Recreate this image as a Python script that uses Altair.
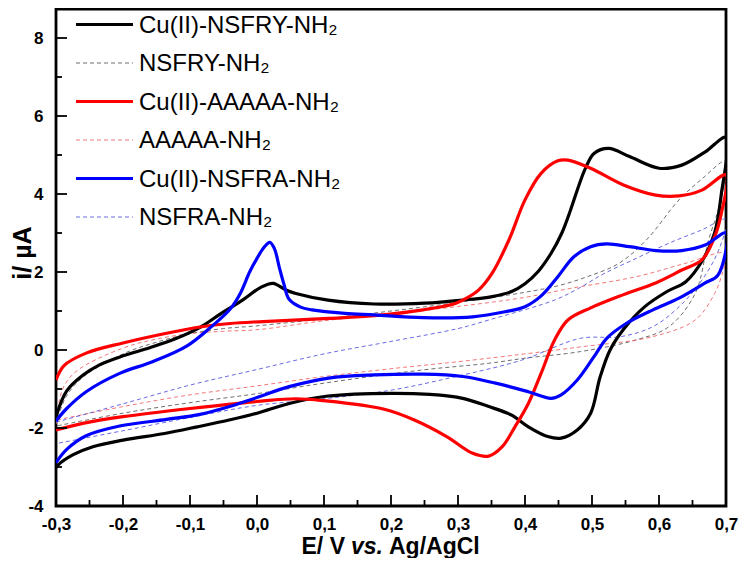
import altair as alt
import pandas as pd

# ---------------- data ----------------
CU_NSFRY_E = [-0.300, -0.284, -0.260, -0.235, -0.200, -0.160, -0.120, -0.085, -0.055, -0.020, 0.005, 0.024,
              0.043, 0.058, 0.106, 0.175, 0.250, 0.307, 0.351, 0.380, 0.400, 0.420, 0.439, 0.455, 0.468, 0.480,
              0.490, 0.503, 0.525, 0.556, 0.600, 0.634, 0.669, 0.700,
              0.693, 0.683, 0.665, 0.640, 0.612, 0.578, 0.548, 0.527, 0.512, 0.498, 0.478, 0.454, 0.434, 0.405,
              0.380, 0.346, 0.307, 0.258, 0.200, 0.106, 0.048, 0.000, -0.040, -0.089, -0.138, -0.200, -0.245,
              -0.275, -0.297, -0.300]
CU_NSFRY_I = [-1.71, -1.05, -0.65, -0.38, -0.15, 0.06, 0.30, 0.58, 0.92, 1.30, 1.60, 1.71,
              1.54, 1.45, 1.28, 1.18, 1.20, 1.28, 1.37, 1.50, 1.70, 2.02, 2.48, 3.00, 3.59, 4.20,
              4.65, 5.04, 5.17, 4.96, 4.66, 4.74, 5.08, 5.45,
              4.00, 3.00, 2.30, 1.75, 1.50, 1.10, 0.55, 0.00, -0.70, -1.62, -2.05, -2.26, -2.22, -1.97,
              -1.67, -1.45, -1.24, -1.14, -1.11, -1.18, -1.37, -1.62, -1.79, -1.97, -2.14, -2.31, -2.48,
              -2.69, -2.95, -3.02]

CU_AAAAA_E = [-0.300, -0.288, -0.255, -0.200, -0.135, -0.085, -0.040, 0.009, 0.107, 0.175, 0.248, 0.297,
              0.315, 0.331, 0.351, 0.376, 0.400, 0.424, 0.449, 0.464, 0.498, 0.547, 0.595, 0.630, 0.664, 0.700,
              0.693, 0.683, 0.664, 0.634, 0.595, 0.547, 0.498, 0.464, 0.444, 0.424, 0.405, 0.385, 0.366, 0.346,
              0.322, 0.283, 0.234, 0.190, 0.100, 0.058, 0.000, -0.100, -0.200, -0.260, -0.300]
CU_AAAAA_I = [-0.77, -0.40, -0.08, 0.18, 0.43, 0.59, 0.68, 0.73, 0.81, 0.88, 1.03, 1.20,
              1.35, 1.54, 1.97, 2.82, 3.85, 4.53, 4.85, 4.87, 4.66, 4.23, 3.97, 3.95, 4.10, 4.49,
              3.50, 2.90, 2.31, 2.05, 1.72, 1.42, 1.08, 0.77, 0.25, -0.60, -1.37, -1.97, -2.48, -2.72,
              -2.65, -2.22, -1.79, -1.52, -1.30, -1.25, -1.32, -1.50, -1.71, -1.88, -2.05]

CU_NSFRA_E = [-0.300, -0.284, -0.255, -0.205, -0.156, -0.105, -0.068, -0.040, -0.025, -0.011, 0.000, 0.010,
              0.019, 0.026, 0.033, 0.040, 0.048, 0.065, 0.082, 0.131, 0.175, 0.248, 0.322, 0.370, 0.400, 0.425,
              0.449, 0.473, 0.498, 0.522, 0.556, 0.595, 0.634, 0.669, 0.700,
              0.688, 0.669, 0.630, 0.591, 0.551, 0.522, 0.503, 0.478, 0.454, 0.439, 0.405, 0.356, 0.307, 0.248,
              0.175, 0.107, 0.048, 0.000, -0.037, -0.085, -0.135, -0.205, -0.255, -0.284, -0.300]
CU_NSFRA_I = [-1.82, -1.50, -1.07, -0.60, -0.30, 0.10, 0.60, 1.05, 1.45, 2.00, 2.35, 2.62,
              2.76, 2.60, 2.14, 1.70, 1.30, 1.10, 1.03, 0.94, 0.90, 0.83, 0.85, 0.98, 1.11, 1.40,
              1.88, 2.39, 2.65, 2.72, 2.65, 2.55, 2.55, 2.69, 3.00,
              1.92, 1.72, 1.33, 1.03, 0.68, 0.30, -0.17, -0.77, -1.15, -1.24, -1.07, -0.85, -0.68, -0.62,
              -0.64, -0.72, -0.94, -1.22, -1.43, -1.65, -1.78, -1.95, -2.20, -2.55, -2.89]

NSFRY_E = [-0.300, -0.285, -0.260, -0.200, -0.150, -0.100, -0.050, 0.000, 0.100, 0.200, 0.300, 0.400, 0.450,
           0.493, 0.540, 0.581, 0.630, 0.665, 0.700,
           0.690, 0.674, 0.654, 0.615, 0.566, 0.483, 0.400, 0.346, 0.248, 0.100, 0.000, -0.100, -0.200, -0.300]
NSFRY_I = [-1.90, -1.20, -0.70, -0.10, 0.20, 0.42, 0.55, 0.62, 0.80, 1.00, 1.22, 1.48, 1.65,
           1.88, 2.22, 2.82, 3.85, 4.40, 4.85,
           3.70, 2.82, 1.45, 0.60, 0.26, -0.04, -0.21, -0.34, -0.51, -0.85, -1.12, -1.35, -1.62, -1.95]

AAAAA_E = [-0.300, -0.290, -0.270, -0.200, -0.150, -0.100, -0.050, 0.000, 0.100, 0.200, 0.297, 0.400, 0.468,
           0.566, 0.639, 0.700,
           0.695, 0.683, 0.654, 0.590, 0.483, 0.400, 0.300, 0.200, 0.100, 0.000, -0.100, -0.200, -0.300]
AAAAA_I = [-1.90, -1.00, -0.55, 0.05, 0.28, 0.42, 0.48, 0.52, 0.75, 0.93, 1.11, 1.35, 1.58,
           1.88, 2.22, 2.48,
           2.00, 1.45, 0.77, 0.34, 0.08, -0.10, -0.30, -0.48, -0.68, -0.92, -1.15, -1.45, -1.80]

NSFRA_E = [-0.300, -0.200, -0.100, 0.000, 0.100, 0.200, 0.300, 0.346, 0.444, 0.480, 0.517, 0.566, 0.615,
           0.664, 0.700,
           0.690, 0.664, 0.630, 0.591, 0.542, 0.483, 0.395, 0.297, 0.200, 0.100, 0.000, -0.100, -0.200, -0.300]
NSFRA_I = [-1.85, -1.38, -0.90, -0.50, -0.10, 0.22, 0.55, 0.77, 1.28, 1.58, 1.95, 2.35, 2.74,
           3.08, 3.35,
           2.60, 1.79, 1.11, 0.60, 0.34, 0.30, -0.26, -0.68, -1.03, -1.25, -1.42, -1.73, -2.07, -2.40]

LABELS = ["Cu(II)-NSFRY-NH₂", "NSFRY-NH₂", "Cu(II)-AAAAA-NH₂", "AAAAA-NH₂", "Cu(II)-NSFRA-NH₂", "NSFRA-NH₂"]
X_MAJOR = [-0.3, -0.2, -0.1, 0.0, 0.1, 0.2, 0.3, 0.4, 0.5, 0.6, 0.7]
X_MINOR = [-0.25, -0.15, -0.05, 0.05, 0.15, 0.25, 0.35, 0.45, 0.55, 0.65]
Y_MAJOR = [-4, -2, 0, 2, 4, 6, 8]
Y_MINOR = [-3, -1, 1, 3, 5, 7]

# ---------------- layout / style ----------------
FONT = "Liberation Sans, Arial, sans-serif"
PW, PH = 670, 497
Y_TOP = -4 + PH / 39.0

series = [
    # label, E, I, colour, width, dash
    (LABELS[1], NSFRY_E, NSFRY_I, "#555555", 1.0, [4, 3]),
    (LABELS[3], AAAAA_E, AAAAA_I, "#f06060", 1.0, [4, 3]),
    (LABELS[5], NSFRA_E, NSFRA_I, "#5050e0", 1.0, [4, 3]),
    (LABELS[0], CU_NSFRY_E, CU_NSFRY_I, "#000000", 3.2, None),
    (LABELS[2], CU_AAAAA_E, CU_AAAAA_I, "#ff0000", 3.2, None),
    (LABELS[4], CU_NSFRA_E, CU_NSFRA_I, "#0000ff", 3.2, None),
]
style = {s[0]: s[3:] for s in series}

xs = alt.Scale(domain=[-0.3, 0.7], nice=False, zero=False)
ys = alt.Scale(domain=[-4, Y_TOP], nice=False, zero=False)

xaxis = alt.Axis(values=X_MAJOR, title=None, domain=False, ticks=False, grid=False,
                 labelExpr="replace((datum.value < -0.001 ? '-' : '') + format(abs(datum.value), '.1f'), '.', ',')",
                 labelPadding=10, labelFontSize=17, labelFont=FONT, labelFontWeight="bold",
                 labelColor="black", labelFlush=False, labelOverlap=False)
yaxis = alt.Axis(values=Y_MAJOR, title=None, domain=False, ticks=False, grid=False,
                 labelExpr="(datum.value < 0 ? '-' : '') + format(abs(datum.value), 'd')",
                 labelPadding=13, labelFontSize=17, labelFont=FONT, labelFontWeight="bold",
                 labelColor="black", labelFlush=False, labelOverlap=False)
xenc = alt.X("E:Q", scale=xs, axis=xaxis)
yenc = alt.Y("I:Q", scale=ys, axis=yaxis)

layers = []
for label, E, I, col, w, dash in series:
    df = pd.DataFrame({"E": E, "I": I, "k": list(range(len(E)))})
    kw = dict(color=col, strokeWidth=w, clip=True, interpolate="catmull-rom")
    if dash:
        kw["strokeDash"] = dash
        kw["opacity"] = 0.85
    layers.append(alt.Chart(df).mark_line(**kw).encode(x=xenc, y=yenc, order=alt.Order("k:Q")))

# inward ticks
def xticks(vals, length):
    return alt.Chart(pd.DataFrame({"E": vals})).mark_rule(color="black", strokeWidth=1.8).encode(
        x=xenc, y=alt.value(PH), y2=alt.value(PH - length))

def yticks(vals, length):
    return alt.Chart(pd.DataFrame({"I": vals})).mark_rule(color="black", strokeWidth=1.8).encode(
        y=yenc, x=alt.value(0), x2=alt.value(length))

layers += [xticks(X_MAJOR, 11), xticks(X_MINOR, 6), yticks(Y_MAJOR, 11), yticks(Y_MINOR, 6)]

# legend
for i, label in enumerate(LABELS):
    col, w, dash = style[label]
    yrow = 15.5 + 38.5 * i
    d1 = pd.DataFrame({"t": [label]})
    kw = dict(color=col, strokeWidth=w)
    if dash:
        kw["strokeDash"] = dash
        kw["opacity"] = 0.85
    layers.append(alt.Chart(d1).mark_rule(**kw).encode(x=alt.value(20), x2=alt.value(77), y=alt.value(yrow)))
    layers.append(alt.Chart(d1).mark_text(align="left", baseline="middle", fontSize=24, font=FONT,
                                          color="black").encode(x=alt.value(83), y=alt.value(yrow + 1), text="t:N"))

# axis titles
XC = PW / 2
tdf = pd.DataFrame({"t": ["i/ µA", "E/ V", "vs.", "Ag/AgCl"]})
layers.append(alt.Chart(tdf).transform_filter("datum.t == 'i/ µA'").mark_text(
    angle=270, align="center", baseline="middle", fontSize=25, fontWeight="bold", font=FONT, color="black"
).encode(x=alt.value(-33), y=alt.value(244), text="t:N"))
layers.append(alt.Chart(tdf).transform_filter("datum.t == 'E/ V'").mark_text(
    align="right", baseline="alphabetic", fontSize=23, fontWeight="bold", font=FONT, color="black"
).encode(x=alt.value(XC - 46), y=alt.value(545), text="t:N"))
layers.append(alt.Chart(tdf).transform_filter("datum.t == 'vs.'").mark_text(
    align="left", baseline="alphabetic", fontSize=23, fontWeight="bold", fontStyle="italic", font=FONT,
    color="black").encode(x=alt.value(XC - 40), y=alt.value(545), text="t:N"))
layers.append(alt.Chart(tdf).transform_filter("datum.t == 'Ag/AgCl'").mark_text(
    align="left", baseline="alphabetic", fontSize=23, fontWeight="bold", font=FONT, color="black"
).encode(x=alt.value(XC - 2), y=alt.value(545), text="t:N"))

chart = alt.layer(*layers).properties(
    width=PW, height=PH,
    autosize=alt.AutoSizeParams(type="none"),
    padding={"left": 48, "top": 1, "right": 16, "bottom": 52},
    background="white",
).configure_view(stroke="black", strokeWidth=2.8)

chart.save("out.html", embed_options={"renderer": "svg", "actions": False})
